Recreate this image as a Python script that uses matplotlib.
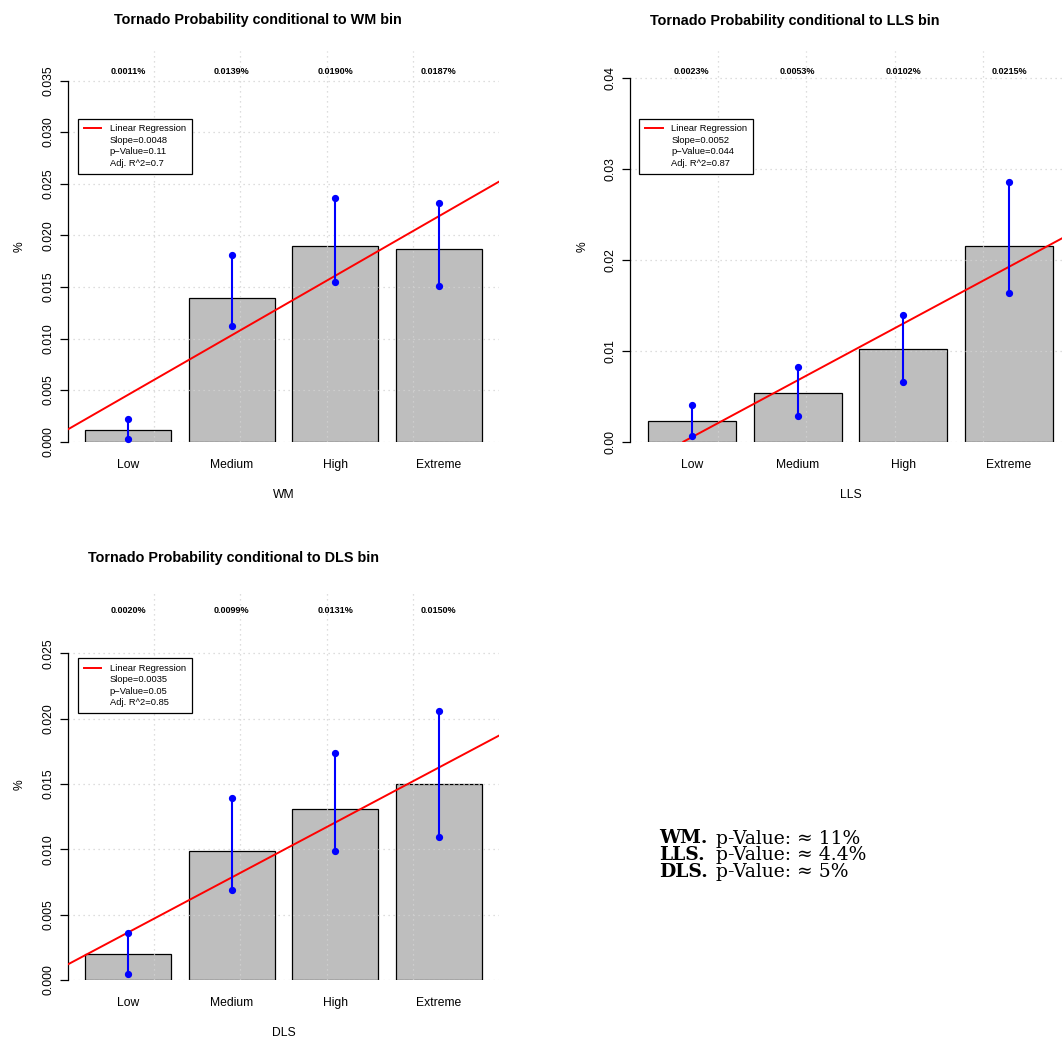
import matplotlib
matplotlib.use("Agg")
import matplotlib.pyplot as plt
from matplotlib.lines import Line2D
import numpy as np

plt.rcParams['font.family'] = ['Liberation Sans', 'DejaVu Sans']

# ---------------- data ----------------
categories = ["Low", "Medium", "High", "Extreme"]

wm_prob = [0.0011, 0.0139, 0.0190, 0.0187]
wm_lower = [0.00023, 0.01118, 0.01545, 0.01512]
wm_upper = [0.00220, 0.01812, 0.02361, 0.02316]
wm_slope, wm_intercept, wm_pval, wm_r2 = 0.0048, 0.0012, "0.11", "0.7"

lls_prob = [0.0023, 0.0053, 0.0102, 0.0215]
lls_lower = [0.00063, 0.00286, 0.00656, 0.01634]
lls_upper = [0.00403, 0.00824, 0.01389, 0.02857]
lls_slope, lls_intercept, lls_pval, lls_r2 = 0.0052, -0.00314, "0.044", "0.87"

dls_prob = [0.0020, 0.0099, 0.0131, 0.0150]
dls_lower = [0.00046, 0.00689, 0.00985, 0.01094]
dls_upper = [0.00362, 0.01393, 0.01735, 0.02056]
dls_slope, dls_intercept, dls_pval, dls_r2 = 0.0035, 0.0012, "0.05", "0.85"

summary_names = ["WM.", "LLS.", "DLS."]
summary_pvals = ["11%", "4.4%", "5%"]

# ---------------- layout ----------------
W, H = 1062, 1039
fig = plt.figure(figsize=(W / 100, H / 100), dpi=100)

BAR_W, SPACE = 1.0, 0.2
centers = [SPACE + BAR_W / 2 + i * (BAR_W + SPACE) for i in range(len(categories))]

GRID_C = '#D3D3D3'
GRID_LS = (0, (1, 3))


def px_axes(x0, x1, ytop, ybot):
    return fig.add_axes([x0 / W, 1 - ybot / H, (x1 - x0) / W, (ybot - ytop) / H])


def draw(ax, probs, lower, upper, slope, intercept, pval, r2, ytop, ystep, fmt,
         xlabel, leg_anchor):
    ax.set_xlim(0, 5)
    ax.set_ylim(0, ytop)
    for s in ['top', 'right', 'bottom']:
        ax.spines[s].set_visible(False)
    ax.spines['left'].set_linewidth(0.9)
    n = int(np.floor(ytop / ystep + 1e-9))
    yticks = [round(i * ystep, 6) for i in range(n + 1)]
    ax.spines['left'].set_bounds(0, yticks[-1])
    ax.set_yticks(yticks)
    ax.set_yticklabels([fmt % t for t in yticks], rotation=90, va='center')
    ax.tick_params(axis='y', length=5.8, width=0.9, pad=3.8, labelsize=8.7)
    ax.set_xticks(centers)
    ax.set_xticklabels(categories)
    ax.tick_params(axis='x', length=0, pad=12.5, labelsize=8.7)

    ax.bar(centers, probs, width=BAR_W, color='#BEBEBE', edgecolor='black',
           linewidth=0.9, zorder=1)
    for y in yticks:
        ax.axhline(y, color=GRID_C, ls=GRID_LS, lw=0.9, zorder=2)
    for x in range(1, 5):
        ax.axvline(x, color=GRID_C, ls=GRID_LS, lw=0.9, zorder=2)

    ax.axline((0, intercept), slope=slope, color='red', lw=1.4, zorder=3)
    ax.vlines(centers, lower, upper, color='blue', lw=1.5, zorder=4)
    ax.plot(centers, lower, 'o', color='blue', ms=4.2, zorder=5, clip_on=False)
    ax.plot(centers, upper, 'o', color='blue', ms=4.2, zorder=5, clip_on=False)

    trans = ax.get_xaxis_transform()
    for c, p in zip(centers, probs):
        ax.text(c, 0.947, f"{p:.4f}%", transform=trans, ha='center', va='center',
                fontsize=6.5, fontweight='bold')

    handles = [Line2D([], [], color='red', lw=1.4)] + \
              [Line2D([], [], color='none') for _ in range(3)]
    labels = ["Linear Regression", f"Slope={slope}", f"p\u2212Value={pval}",
              f"Adj. R^2={r2}"]
    leg = ax.legend(handles, labels, loc='upper left', bbox_to_anchor=leg_anchor,
                    borderaxespad=0, fontsize=6.75, fancybox=False,
                    edgecolor='black', framealpha=1, handlelength=1.9,
                    handletextpad=0.9, labelspacing=0.27, borderpad=0.62)
    leg.get_frame().set_linewidth(0.9)
    leg.set_zorder(10)

    ax.annotate(xlabel, xy=(0.5, 0), xycoords='axes fraction', xytext=(0, -38.4),
                textcoords='offset points', ha='center', va='center', fontsize=8.7)
    ax.annotate("%", xy=(0, 0.5), xycoords='axes fraction', xytext=(-34.6, 0),
                textcoords='offset points', ha='center', va='center', fontsize=8.7,
                rotation=90)


ax1 = px_axes(68, 499, 51, 441.7)
draw(ax1, wm_prob, wm_lower, wm_upper, wm_slope, wm_intercept, wm_pval, wm_r2,
     0.03786, 0.005, "%.3f", "WM", (0.0225, 0.827))

ax2 = px_axes(630.2, 1070.7, 51, 441.7)
draw(ax2, lls_prob, lls_lower, lls_upper, lls_slope, lls_intercept, lls_pval, lls_r2,
     0.04293, 0.01, "%.2f", "LLS", (0.0207, 0.827))

ax3 = px_axes(68, 499, 590, 980)
draw(ax3, dls_prob, dls_lower, dls_upper, dls_slope, dls_intercept, dls_pval, dls_r2,
     0.02984, 0.005, "%.3f", "DLS", (0.0225, 0.8256))

title_kw = dict(ha='center', va='center', fontsize=10.4, fontweight='bold')
fig.text(258 / W, 1 - 20 / H, "Tornado Probability conditional to WM bin", **title_kw)
fig.text(795 / W, 1 - 20.5 / H, "Tornado Probability conditional to LLS bin", **title_kw)
fig.text(234 / W, 1 - 558 / H, "Tornado Probability conditional to DLS bin", **title_kw)

serif = ['DejaVu Serif', 'Liberation Serif']
last_baseline = 876.7
fig.text(659 / W, 1 - last_baseline / H, "\n".join(summary_names), family=serif,
         fontweight='bold', fontsize=13.5, ha='left', va='baseline', linespacing=0.93)
fig.text(716 / W, 1 - last_baseline / H,
         "\n".join(f"p-Value: \u2248 {pv}" for pv in summary_pvals), family=serif,
         fontsize=13.5, ha='left', va='baseline', linespacing=0.88)

fig.savefig("out.png", dpi=100)
